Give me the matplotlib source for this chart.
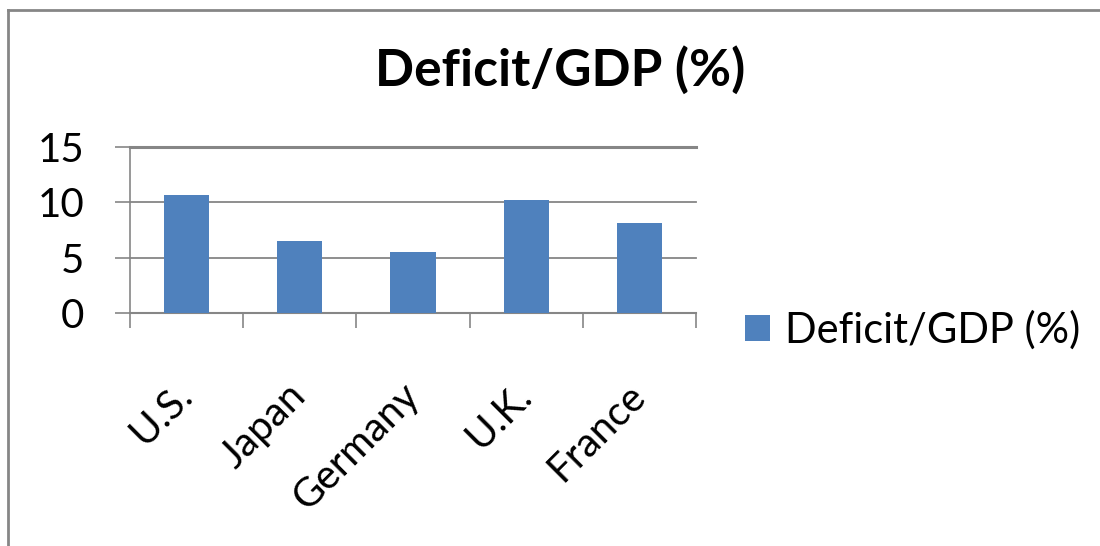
import matplotlib
matplotlib.use("Agg")
import matplotlib.pyplot as plt
from matplotlib.lines import Line2D

categories = ["U.S.", "Japan", "Germany", "U.K.", "France"]
values = [10.7, 6.5, 5.5, 10.2, 8.1]
series_name = "Deficit/GDP (%)"
yticks = [0, 5, 10, 15]

plt.rcParams['font.family'] = ['Lato', 'DejaVu Sans']
W, H = 1100, 546
fig = plt.figure(figsize=(W / 100, H / 100), dpi=100)
ax = fig.add_axes([130/W, 1-313/H, (696-130)/W, (313-147)/H])

grid_c = '#868686'
bar_c = '#4F81BD'
x = list(range(len(categories)))
bars = ax.bar(x, values, width=0.4, color=bar_c, label=series_name, zorder=3)
ax.set_xlim(-0.5, len(categories) - 0.5)
ax.set_ylim(0, 15)
ax.set_yticks(yticks)
ax.set_yticklabels([str(v) for v in yticks], fontsize=29)
for y in yticks[1:]:
    ax.axhline(y, color=grid_c, lw=1.3 if y < 15 else 2.2, zorder=1, clip_on=False)
for s in ['top', 'right']:
    ax.spines[s].set_visible(False)
ax.spines['left'].set_color(grid_c)
ax.spines['bottom'].set_color(grid_c)
ax.spines['left'].set_linewidth(1.2)
ax.spines['bottom'].set_linewidth(1.5)
ax.tick_params(axis='y', length=11, width=1.2, color=grid_c, pad=22)
# category boundary ticks
ax.set_xticks([i - 0.5 for i in range(len(categories) + 1)], minor=False)
ax.set_xticklabels([''] * (len(categories) + 1))
ax.tick_params(axis='x', length=11, width=1.2, color=grid_c)
ax.set_xticks(x, minor=True)
ax.set_xticklabels(categories, minor=True, fontsize=29, rotation=45,
                   ha='right', va='center', rotation_mode='anchor')
ax.tick_params(axis='x', which='minor', length=0, pad=55)

fig.text(560/W, 1-70/H, "Deficit/GDP (%)", fontsize=37, fontweight='bold',
         ha='center', va='center')

leg = fig.legend(handles=[bars], labels=[series_name], loc='center left',
                 bbox_to_anchor=(745/W, 1-330/H), frameon=False,
                 fontsize=30, handlelength=0.6, handleheight=0.6,
                 handletextpad=0.35, borderpad=0, borderaxespad=0)

fig.add_artist(Line2D([8/W, 8/W], [0, 1-10/H], transform=fig.transFigure,
                      color=grid_c, lw=2))
fig.add_artist(Line2D([8/W, 1], [1-10/H, 1-10/H], transform=fig.transFigure,
                      color=grid_c, lw=2))

fig.savefig("out.png", dpi=100)
